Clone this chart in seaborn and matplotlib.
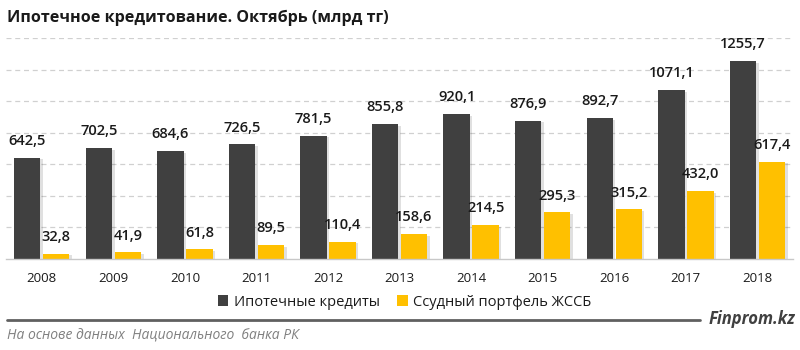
import matplotlib
matplotlib.use("Agg")
import matplotlib.pyplot as plt
import matplotlib.patheffects as pe
from matplotlib.lines import Line2D
from matplotlib.patches import Patch
import seaborn as sns
import pandas as pd

years = ["2008", "2009", "2010", "2011", "2012", "2013", "2014", "2015", "2016", "2017", "2018"]
mortgage = [642.5, 702.5, 684.6, 726.5, 781.5, 855.8, 920.1, 876.9, 892.7, 1071.1, 1255.7]
hcsb = [32.8, 41.9, 61.8, 89.5, 110.4, 158.6, 214.5, 295.3, 315.2, 432.0, 617.4]
series_names = ["Ипотечные кредиты", "Ссудный портфель ЖССБ"]
title = "Ипотечное кредитование. Октябрь (млрд тг)"
source = "На основе данных  Национального  банка РК"
brand = "Finprom.kz"

colors = ["#404040", "#FFC000"]

df = pd.DataFrame({
    "year": years * 2,
    "value": mortgage + hcsb,
    "series": [series_names[0]] * len(years) + [series_names[1]] * len(years),
})

sns.set_theme(style="white")
plt.rcParams["font.family"] = ["Open Sans", "DejaVu Sans"]

fig = plt.figure(figsize=(8, 3.5), dpi=100)
ax = fig.add_axes([0.0075, 0.26, 0.984, 0.631])

sns.barplot(data=df, x="year", y="value", hue="series", palette=colors,
            width=0.81, gap=0.09, ax=ax, legend=False, saturation=1)

for p in ax.patches:
    p.set_path_effects([pe.SimplePatchShadow(offset=(1.8, -1.2), alpha=0.12, shadow_rgbFace="#000000"), pe.Normal()])
    p.set_edgecolor("none")

for cont in ax.containers:
    labels = [f"{v:.1f}".replace(".", ",") for v in cont.datavalues]
    ax.bar_label(cont, labels=labels, padding=7, fontsize=10.5, fontweight="semibold",
                 color="#1a1a1a")

ax.set_ylim(0, 1400)
ax.set_yticks(range(200, 1401, 200))
ax.yaxis.grid(True, linestyle=(0, (4, 3)), color="#d0d0d0", linewidth=0.9)
ax.set_axisbelow(True)
ax.set_yticklabels([])
ax.tick_params(axis="y", length=0)
ax.tick_params(axis="x", length=0, pad=9, labelsize=9.5, colors="#1a1a1a")
ax.set_xlabel("")
ax.set_ylabel("")
for s in ["top", "left", "right"]:
    ax.spines[s].set_visible(False)
ax.spines["bottom"].set_color("#c8c8c8")
ax.spines["bottom"].set_linewidth(1)
ax.set_xlim(-0.5, len(years) - 0.5)

fig.text(0.009, 0.949, title, fontsize=11.6, fontweight="bold", color="#1a1a1a", va="center", ha="left")

handles = [Patch(facecolor=c, edgecolor="none") for c in colors]
fig.legend(handles, series_names, loc="center", bbox_to_anchor=(0.506, 0.137), ncol=2,
           frameon=False, fontsize=10.5, handlelength=0.7, handleheight=0.7,
           handletextpad=0.4, columnspacing=1.2, labelcolor="#1a1a1a")

fig.add_artist(Line2D([0.009, 0.875], [0.086, 0.086], color="#606060", linewidth=2))
fig.text(0.994, 0.09, brand, fontsize=12, fontweight="bold", fontstyle="italic",
         color="#404040", ha="right", va="center")
fig.text(0.009, 0.04, source, fontsize=10, fontstyle="italic", color="#808080", ha="left", va="center")

fig.savefig("out.png", dpi=100)
